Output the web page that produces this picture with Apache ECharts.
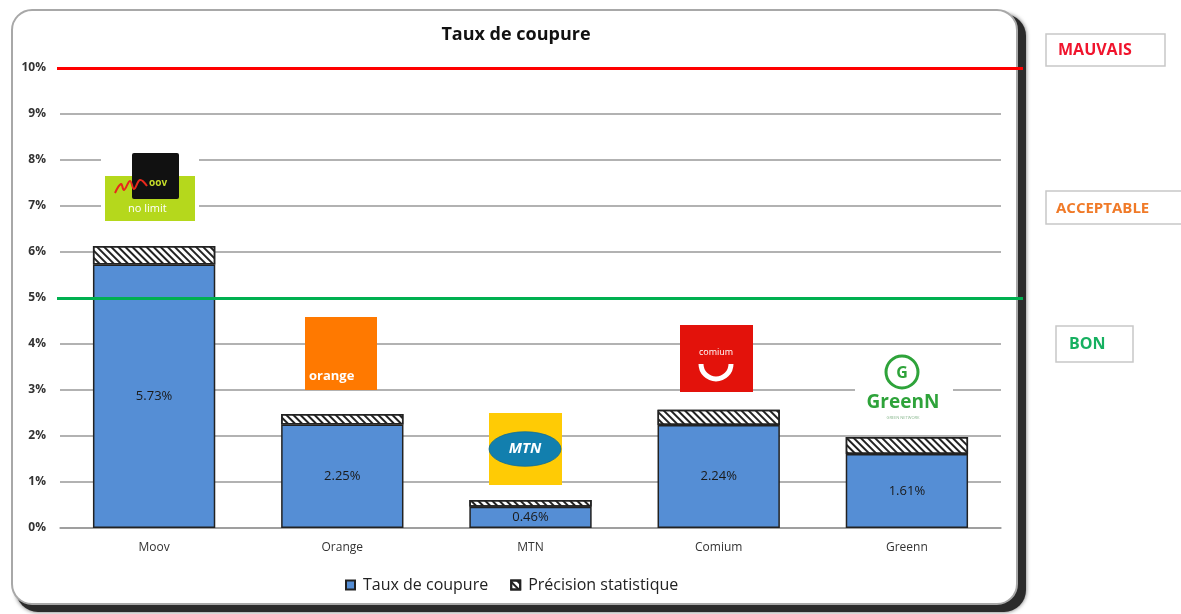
<!DOCTYPE html>
<html>
<head>
<meta charset="utf-8">
<script src="https://cdn.jsdelivr.net/npm/echarts@6/dist/echarts.min.js"></script>
<style>
  html, body { margin: 0; padding: 0; background: #fff; }
  #chart { width: 1181px; height: 614px; }
</style>
</head>
<body>
<div id="chart"></div>
<script>
// données
const operateurs = ['Moov', 'Orange', 'MTN', 'Comium', 'Greenn']
const tauxCoupure = [5.73, 2.25, 0.46, 2.24, 1.61]
const precision = [0.40, 0.23, 0.15, 0.33, 0.37]
const seuils = [10, 5]
const seuilCouleurs = ['#ff0000', '#00b050']
const yTicks = [0, 1, 2, 3, 4, 5, 6, 7, 8, 9, 10]

const FONT = '"Open Sans", "Liberation Sans", sans-serif'

const chart = echarts.init(document.getElementById('chart'))

// logos (décor)
const logos = [
  // Moov
  { type: 'rect', shape: { x: 101, y: 149, width: 98, height: 76 }, style: { fill: '#fff' }, z: 50 },
  { type: 'rect', shape: { x: 105, y: 176, width: 90, height: 45 }, style: { fill: '#b5d81c' }, z: 51 },
  { type: 'rect', shape: { x: 132, y: 153, width: 47, height: 46, r: 2 }, style: { fill: '#111' }, z: 52 },
  { type: 'text', x: 149, y: 178, style: { text: 'oov', fill: '#c6dc2a', font: 'bold 10px ' + FONT }, z: 53 },
  { type: 'polyline', shape: { points: [[115, 193], [121, 184], [124, 190], [130, 181], [134, 189], [140, 180], [147, 186]], smooth: 0.4 }, style: { stroke: '#e8281c', lineWidth: 2, fill: null }, z: 53 },
  { type: 'text', x: 128, y: 203, style: { text: 'no limit', fill: '#fff', font: '11px ' + FONT }, z: 53 },
  // Orange
  { type: 'rect', shape: { x: 305, y: 317, width: 72, height: 73 }, style: { fill: '#ff7900' }, z: 51 },
  { type: 'text', x: 309, y: 370, style: { text: 'orange', fill: '#fff', font: 'bold 13px ' + FONT }, z: 52 },
  // MTN
  { type: 'rect', shape: { x: 489, y: 413, width: 73, height: 72 }, style: { fill: '#ffcb05' }, z: 51 },
  { type: 'circle', x: 525, y: 449, scaleY: 0.48, shape: { cx: 0, cy: 0, r: 36 }, style: { fill: '#127fae', stroke: '#0d6a93', lineWidth: 1 }, z: 52 },
  { type: 'text', x: 525, y: 449, style: { text: 'MTN', fill: '#fff', font: 'italic bold 15px ' + FONT, align: 'center', verticalAlign: 'middle' }, z: 53 },
  // Comium
  { type: 'rect', shape: { x: 680, y: 325, width: 73, height: 67 }, style: { fill: '#e3120b' }, z: 51 },
  { type: 'text', x: 716, y: 352, style: { text: 'comium', fill: '#fff', font: '9px ' + FONT, align: 'center', verticalAlign: 'middle' }, z: 52 },
  { type: 'arc', shape: { cx: 716, cy: 364, r: 15, startAngle: 0, endAngle: Math.PI }, style: { stroke: '#fff', lineWidth: 5, fill: null }, z: 52 },
  // GreenN
  { type: 'rect', shape: { x: 855, y: 352, width: 98, height: 62 }, style: { fill: '#fff' }, z: 50 },
  { type: 'circle', shape: { cx: 902, cy: 372, r: 16 }, style: { fill: '#fff', stroke: '#2ea33a', lineWidth: 3 }, z: 51 },
  { type: 'text', x: 902, y: 373, style: { text: 'G', fill: '#2ea33a', font: 'bold 16px ' + FONT, align: 'center', verticalAlign: 'middle' }, z: 52 },
  { type: 'text', x: 903, y: 403, style: { text: 'GreenN', fill: '#2ea33a', font: 'bold 19px ' + FONT, align: 'center', verticalAlign: 'middle' }, z: 52 },
  { type: 'text', x: 903, y: 418, style: { text: 'GREEN NETWORK', fill: '#8ab88f', font: '4px ' + FONT, align: 'center', verticalAlign: 'middle' }, z: 52 }
]

// encadrés à droite
const encadres = [
  { type: 'rect', shape: { x: 1046, y: 34, width: 119, height: 32 }, style: { fill: '#fff', stroke: '#c8c8c8', lineWidth: 1.5 } },
  { type: 'text', x: 1058, y: 50, style: { text: 'MAUVAIS', fill: '#f0142d', font: 'bold 16px ' + FONT, verticalAlign: 'middle' } },
  { type: 'rect', shape: { x: 1046, y: 191, width: 140, height: 33 }, style: { fill: '#fff', stroke: '#c8c8c8', lineWidth: 1.5 } },
  { type: 'text', x: 1056, y: 209, style: { text: 'ACCEPTABLE', fill: '#f07a28', font: 'bold 15px ' + FONT, verticalAlign: 'middle' } },
  { type: 'rect', shape: { x: 1056, y: 326, width: 77, height: 36 }, style: { fill: '#fff', stroke: '#c8c8c8', lineWidth: 1.5 } },
  { type: 'text', x: 1069, y: 344, style: { text: 'BON', fill: '#16b060', font: 'bold 16px ' + FONT, verticalAlign: 'middle' } }
]

const option = {
  backgroundColor: '#fff',
  animation: false,
  textStyle: { fontFamily: FONT },
  title: {
    text: 'Taux de coupure',
    left: 511,
    top: 21,
    textAlign: 'center',
    textStyle: { fontSize: 18, fontWeight: 'bold', color: '#111', fontFamily: FONT }
  },
  graphic: [
    // ombre du cadre
    {
      type: 'rect', z: -11,
      shape: { x: 16, y: 14, width: 1010, height: 598, r: 22 },
      style: { fill: '#2b2b2b', shadowColor: 'rgba(0,0,0,0.6)', shadowBlur: 4 }
    },
    // cadre
    {
      type: 'rect', z: -10,
      shape: { x: 12, y: 10, width: 1005, height: 594, r: 20 },
      style: { fill: '#fff', stroke: '#a8a8a8', lineWidth: 2 }
    },
    ...logos,
    ...encadres
  ],
  legend: {
    top: 572,
    left: 340,
    itemWidth: 9,
    itemHeight: 9,
    itemGap: 22,
    icon: 'rect',
    data: ['Taux de coupure', 'Précision statistique'],
    textStyle: { fontSize: 16, color: '#222', fontFamily: FONT, padding: [0, 0, 0, 3] }
  },
  grid: [
    { left: 60, right: 180, top: 68, bottom: 86 },
    { left: 57, right: 158, top: 68, bottom: 86 }
  ],
  xAxis: [
    {
      type: 'category',
      data: operateurs,
      gridIndex: 0,
      axisLine: { lineStyle: { color: '#999', width: 1.5 } },
      axisTick: { show: false },
      axisLabel: { color: '#333', fontSize: 12, margin: 14 }
    },
    { type: 'value', gridIndex: 1, min: 0, max: 1, show: false }
  ],
  yAxis: [
    {
      type: 'value',
      gridIndex: 0,
      min: yTicks[0],
      max: yTicks[yTicks.length - 1],
      interval: 1,
      axisLine: { show: false },
      axisTick: { show: false },
      splitLine: { lineStyle: { color: '#999', width: 1.5 } },
      axisLabel: { formatter: '{value}%', color: '#333', fontSize: 12, fontWeight: 'bold', margin: 14 }
    },
    { type: 'value', gridIndex: 1, min: 0, max: 10, show: false }
  ],
  series: [
    {
      name: 'Taux de coupure',
      type: 'bar',
      stack: 'total',
      barWidth: '65%',
      data: tauxCoupure,
      itemStyle: { color: '#558ed5', borderColor: '#222', borderWidth: 1.5 },
      label: {
        show: true,
        position: 'inside',
        formatter: p => p.value.toFixed(2) + '%',
        color: '#1a1a1a',
        fontSize: 13,
        fontFamily: FONT
      }
    },
    {
      name: 'Précision statistique',
      type: 'bar',
      stack: 'total',
      barWidth: '65%',
      data: precision,
      itemStyle: {
        color: '#fff',
        borderColor: '#222',
        borderWidth: 1.5,
        decal: {
          symbol: 'rect',
          color: '#222',
          dashArrayX: [1, 0],
          dashArrayY: [2, 3],
          rotation: Math.PI / 4
        }
      }
    },
    {
      name: 'seuils',
      type: 'line',
      xAxisIndex: 1,
      yAxisIndex: 1,
      data: [],
      silent: true,
      markLine: {
        silent: true,
        symbol: 'none',
        label: { show: false },
        data: seuils.map((v, i) => ({ yAxis: v, lineStyle: { color: seuilCouleurs[i], width: 3, type: 'solid' } }))
      }
    }
  ]
}

chart.setOption(option)
</script>
</body>
</html>
